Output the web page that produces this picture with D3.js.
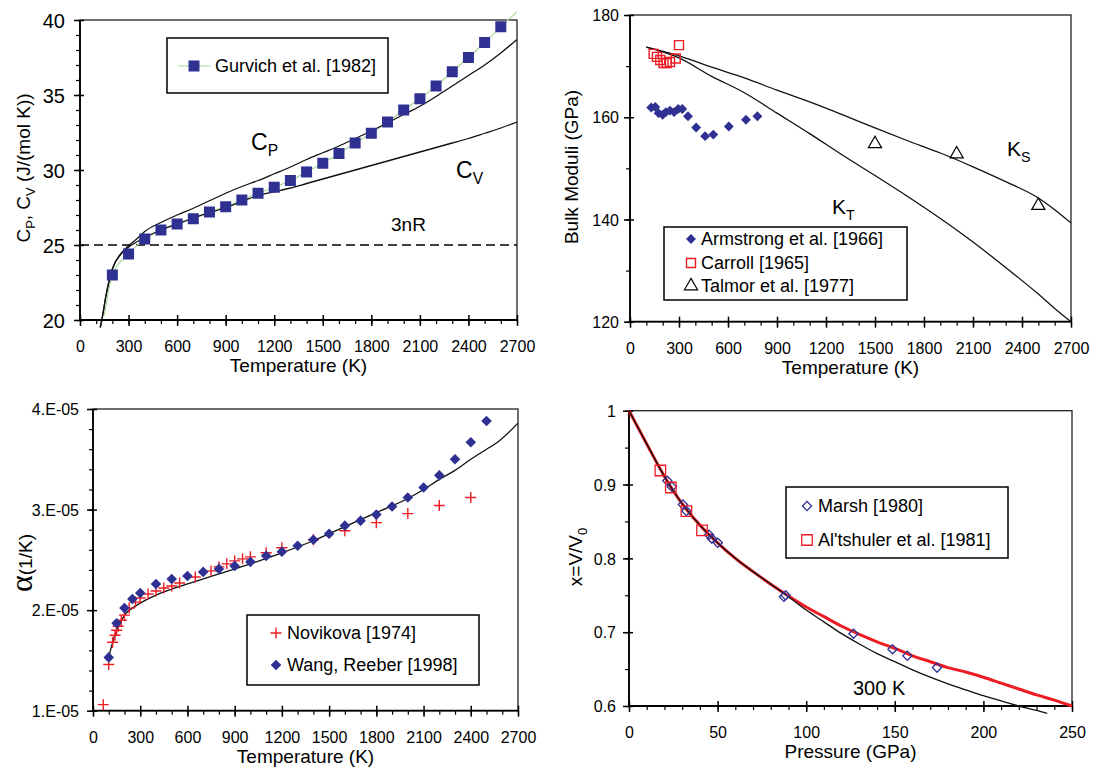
<!DOCTYPE html>
<html>
<head>
<meta charset="utf-8">
<script src="https://cdn.jsdelivr.net/npm/d3@7"></script>
<style>
  body { margin: 0; background: #fff; }
  svg { display: block; }
  text { font-family: "Liberation Sans", Arial, sans-serif; fill: #000; }
</style>
</head>
<body>
<svg id="chart" width="1093" height="769"></svg>
<script>
const BLUE = "#2e3192", RED = "#ed1c24", GREEN = "#a9d69b";

// ---- panel 1 : heat capacity ----
const gurvichT = [200, 300, 400, 500, 600, 700, 800, 900, 1000, 1100, 1200, 1300, 1400,
  1500, 1600, 1700, 1800, 1900, 2000, 2100, 2200, 2300, 2400, 2500, 2600];
const gurvichC = [23.0, 24.4, 25.4, 26.0, 26.4, 26.75, 27.2, 27.55, 28.0, 28.45, 28.85, 29.3, 29.87,
  30.45, 31.1, 31.8, 32.45, 33.2, 34.0, 34.75, 35.6, 36.55, 37.5, 38.5, 39.55];
const gurvichLineStart = [150, 20.3];
const gurvichLineEnd = [2700, 40.55];
const calcT = [125, 135, 160, 200, 250, 300, 350, 400, 500, 600, 700, 800, 900, 1000, 1100, 1200,
  1300, 1400, 1500, 1600, 1700, 1800, 1900, 2000, 2100, 2200, 2300, 2400, 2500, 2600, 2700];
const cp = [19.5, 20.0, 21.6, 23.4, 24.4, 24.95, 25.4, 25.9, 26.5, 27.0, 27.45, 27.95, 28.45, 28.9, 29.3, 29.75,
  30.2, 30.7, 31.15, 31.6, 32.1, 32.6, 33.15, 33.7, 34.25, 34.9, 35.6, 36.3, 37.0, 37.8, 38.7];
const cv = [19.5, 20.0, 21.6, 23.4, 24.35, 24.85, 25.2, 25.5, 26.0, 26.4, 26.8, 27.15, 27.5, 27.9, 28.3, 28.55,
  28.8, 29.1, 29.4, 29.7, 30.0, 30.3, 30.6, 30.9, 31.2, 31.5, 31.8, 32.1, 32.45, 32.8, 33.2];
const dulongPetit = 25;

// ---- panel 2 : bulk moduli ----
const armstrongT = [130, 155, 175, 200, 220, 245, 270, 295, 320, 355, 405, 460, 510, 605, 710, 780];
const armstrongK = [161.9, 162.0, 160.8, 160.5, 161.0, 161.3, 161.0, 161.6, 161.6, 160.2, 158.0, 156.3, 156.6, 158.2, 159.5, 160.2];
const carrollT = [145, 165, 185, 205, 225, 245, 280, 300];
const carrollK = [172.4, 171.8, 171.2, 170.6, 170.6, 170.8, 171.5, 174.1];
const talmorT = [1500, 2000, 2500];
const talmorK = [154.8, 152.8, 142.7];
const modT = [100, 300, 500, 700, 900, 1100, 1300, 1500, 1700, 1900, 2100, 2300, 2500, 2600, 2700];
const ks = [173.7, 172.0, 169.8, 167.7, 165.3, 163.0, 160.5, 157.9, 155.4, 153.0, 150.3, 147.4, 144.2, 141.9, 139.3];
const kt = [173.7, 171.6, 168.0, 164.8, 160.8, 156.8, 152.6, 148.6, 144.5, 140.2, 135.6, 130.6, 125.4, 122.6, 120.0];

// ---- panel 3 : thermal expansion (units of 1E-05 1/K) ----
const novikovaT = [65, 100, 125, 140, 150, 160, 180, 200, 230, 270, 300, 350, 400, 450, 500, 550, 650, 750,
  800, 850, 900, 950, 1000, 1100, 1200, 1400, 1600, 1800, 2000, 2200, 2400];
const novikovaA = [1.06, 1.46, 1.68, 1.75, 1.80, 1.84, 1.90, 1.95, 2.02, 2.08, 2.12, 2.16, 2.19, 2.22, 2.24, 2.27, 2.33, 2.39,
  2.43, 2.46, 2.49, 2.51, 2.53, 2.57, 2.62, 2.70, 2.79, 2.87, 2.96, 3.04, 3.12];
const wangT = [100, 150, 200, 250, 300, 400, 500, 600, 700, 800, 900, 1000, 1100, 1200, 1300, 1400,
  1500, 1600, 1700, 1800, 1900, 2000, 2100, 2200, 2300, 2400, 2500];
const wangA = [1.53, 1.87, 2.02, 2.11, 2.17, 2.26, 2.31, 2.34, 2.38, 2.41, 2.44, 2.48, 2.54, 2.58, 2.64, 2.70,
  2.76, 2.84, 2.89, 2.95, 3.03, 3.12, 3.22, 3.34, 3.50, 3.67, 3.88];
const alphaT = [100, 150, 200, 250, 300, 400, 500, 600, 800, 1000, 1200, 1400, 1600, 1800, 2000, 2100,
  2200, 2300, 2400, 2500, 2570, 2700];
const alphaCalc = [1.54, 1.80, 1.95, 2.02, 2.07, 2.15, 2.21, 2.26, 2.36, 2.46, 2.57, 2.69, 2.83, 2.97, 3.11, 3.20,
  3.30, 3.39, 3.50, 3.60, 3.67, 3.86];

// ---- panel 4 : compression ----
const marshP = [21.6, 24.2, 30.4, 32.4, 45.2, 46.7, 50.1, 87.4, 88.4, 126.7, 148.7, 157.1, 173.8];
const marshX = [0.905, 0.897, 0.873, 0.864, 0.832, 0.827, 0.821, 0.748, 0.750, 0.698, 0.677, 0.668, 0.652];
const altshulerP = [17.7, 23.6, 32.4, 41.2];
const altshulerX = [0.919, 0.896, 0.864, 0.838];
const isoP = [0, 10, 20, 30, 40, 50, 60, 70, 80, 90, 100, 110, 120, 130, 140, 150, 160, 170, 180, 190,
  200, 210, 220, 230, 236];
const iso300 = [1.0, 0.955, 0.911, 0.874, 0.845, 0.821, 0.800, 0.782, 0.765, 0.748, 0.730, 0.714, 0.698, 0.684,
  0.671, 0.660, 0.649, 0.639, 0.630, 0.622, 0.614, 0.607, 0.600, 0.594, 0.590];
const hugP = [0, 10, 20, 30, 40, 50, 60, 70, 80, 90, 100, 110, 120, 130, 140, 150, 160, 170, 180, 190,
  200, 210, 220, 230, 240, 250];
const hugX = [1.0, 0.955, 0.911, 0.874, 0.845, 0.821, 0.800, 0.782, 0.765, 0.749, 0.734, 0.721, 0.708, 0.697,
  0.687, 0.678, 0.668, 0.660, 0.652, 0.646, 0.639, 0.631, 0.623, 0.615, 0.608, 0.600];

const tempTicks = [0, 300, 600, 900, 1200, 1500, 1800, 2100, 2400, 2700];

const svg = d3.select("#chart");
svg.append("rect").attr("width", 1093).attr("height", 769).attr("fill", "#fff");

function zip(a, b) { return a.map((v, i) => [v, b[i]]); }

// draw frame, axes and tick labels of one panel
function panel(o) {
  const x = d3.scaleLinear().domain(o.xd).range(o.xr);
  const y = d3.scaleLinear().domain(o.yd).range(o.yr);
  const g = svg.append("g");
  const bottom = o.yr[0], left = o.xr[0];

  g.append("rect")
    .attr("x", o.xr[0]).attr("y", o.yr[1])
    .attr("width", o.xr[1] - o.xr[0]).attr("height", o.yr[0] - o.yr[1])
    .attr("fill", "none").attr("stroke", "#222").attr("stroke-width", 1.3);

  // minor ticks
  const xm = g.append("g").attr("transform", `translate(0,${bottom})`)
    .call(d3.axisBottom(x).tickValues(o.xMinor).tickSize(4).tickFormat(""));
  xm.select(".domain").remove();
  const ym = g.append("g").attr("transform", `translate(${left},0)`)
    .call(d3.axisLeft(y).tickValues(o.yMinor).tickSize(4).tickFormat(""));
  ym.select(".domain").remove();
  g.selectAll("line").attr("stroke-width", 1.2);

  // major ticks + labels
  const xa = g.append("g").attr("transform", `translate(0,${bottom})`)
    .call(d3.axisBottom(x).tickValues(o.xMajor).tickSize(6).tickFormat(o.xFmt || d3.format("d")));
  xa.select(".domain").remove();
  xa.selectAll("line").attr("y1", -5).attr("stroke-width", 1.5);
  xa.selectAll("text").attr("y", 32).attr("dy", null)
    .attr("font-size", o.xFs || 16).attr("font-family", "Liberation Sans, Arial, sans-serif");

  const ya = g.append("g").attr("transform", `translate(${left},0)`)
    .call(d3.axisLeft(y).tickValues(o.yMajor).tickSize(6).tickFormat(o.yFmt));
  ya.select(".domain").remove();
  ya.selectAll("line").attr("x1", 4).attr("stroke-width", 1.5);
  ya.selectAll("text").attr("x", -o.yLabOff).attr("dy", "0.36em")
    .attr("font-size", o.yFs || 16).attr("font-family", "Liberation Sans, Arial, sans-serif");

  g.append("line").attr("x1", left).attr("x2", left).attr("y1", o.yr[1]).attr("y2", bottom)
    .attr("stroke", "#000").attr("stroke-width", 1.8);
  g.append("line").attr("x1", left).attr("x2", o.xr[1]).attr("y1", bottom).attr("y2", bottom)
    .attr("stroke", "#000").attr("stroke-width", 1.8);

  g.append("text").attr("x", (o.xr[0] + o.xr[1]) / 2).attr("y", bottom + 52)
    .attr("text-anchor", "middle").attr("font-size", 19).text(o.xTitle);
  return { x, y, g };
}

// text with subscripts: parts = [[str, isSub], ...]
function rich(g, x, y, parts, size, opts = {}) {
  const t = g.append("text").attr("x", x).attr("y", y).attr("font-size", size)
    .attr("text-anchor", opts.anchor || "start");
  if (opts.rotate) t.attr("transform", `rotate(-90,${x},${y})`).attr("dy", "0.35em");
  let shift = 0;
  parts.forEach(p => {
    const s = t.append("tspan").text(p[0]);
    const target = p[1] ? size * 0.28 : 0;
    if (target !== shift) { s.attr("dy", target - shift); shift = target; }
    if (p[1]) s.attr("font-size", size * 0.68);
  });
  return t;
}

function curve(g, x, y, pts, color, width) {
  g.append("path").datum(pts)
    .attr("d", d3.line().x(d => x(d[0])).y(d => y(d[1])).curve(d3.curveMonotoneX))
    .attr("fill", "none").attr("stroke", color).attr("stroke-width", width)
    .attr("stroke-linejoin", "round");
}

const sqPath = (s) => d3.symbol(d3.symbolSquare, s * s)();
function squares(g, pts, s, fill, stroke, sw) {
  g.selectAll(null).data(pts).enter().append("path")
    .attr("d", sqPath(s)).attr("transform", d => `translate(${d[0]},${d[1]})`)
    .attr("fill", fill).attr("stroke", stroke || "none").attr("stroke-width", sw || 0);
}
function diamonds(g, pts, s, fill, stroke, sw) {
  g.selectAll(null).data(pts).enter().append("path")
    .attr("d", sqPath(s)).attr("transform", d => `translate(${d[0]},${d[1]}) rotate(45)`)
    .attr("fill", fill).attr("stroke", stroke || "none").attr("stroke-width", sw || 0);
}
function crosses(g, pts, r, color) {
  g.selectAll(null).data(pts).enter().append("path")
    .attr("d", `M${-r},0H${r}M0,${-r}V${r}`).attr("transform", d => `translate(${d[0]},${d[1]})`)
    .attr("stroke", color).attr("stroke-width", 1.4).attr("fill", "none");
}
function triangles(g, pts, s) {
  g.selectAll(null).data(pts).enter().append("path")
    .attr("d", d3.symbol(d3.symbolTriangle, s)()).attr("transform", d => `translate(${d[0]},${d[1]})`)
    .attr("fill", "none").attr("stroke", "#000").attr("stroke-width", 1.2);
}
function legendBox(g, x0, y0, x1, y1) {
  g.append("rect").attr("x", x0).attr("y", y0).attr("width", x1 - x0).attr("height", y1 - y0)
    .attr("fill", "#fff").attr("stroke", "#000").attr("stroke-width", 1.5);
}

const tempMinor = d3.range(0, 2701, 100);

// ================= panel 1 =================
{
  const p = panel({
    xd: [0, 2700], xr: [80, 517], yd: [20, 40], yr: [320, 20],
    xMajor: tempTicks, xMinor: tempMinor, yMajor: [20, 25, 30, 35, 40], yMinor: d3.range(20, 40.1, 1),
    yFmt: d3.format("d"), yLabOff: 15, yFs: 20, xTitle: "Temperature (K)"
  });
  const { x, y, g } = p;
  g.append("line").attr("x1", x(0)).attr("x2", x(2700)).attr("y1", y(dulongPetit)).attr("y2", y(dulongPetit))
    .attr("stroke", "#000").attr("stroke-width", 1.6).attr("stroke-dasharray", "9,5");
  const gLine = [gurvichLineStart].concat(zip(gurvichT, gurvichC)).concat([gurvichLineEnd]);
  curve(g, x, y, gLine, GREEN, 1.2);
  curve(g, x, y, zip(calcT, cp), "#111", 1.3);
  curve(g, x, y, zip(calcT, cv), "#111", 1.3);
  squares(g, zip(gurvichT, gurvichC).map(d => [x(d[0]), y(d[1])]), 11, BLUE);

  rich(g, 251, 150, [["C", 0], ["P", 1]], 23);
  rich(g, 456, 178, [["C", 0], ["V", 1]], 23);
  g.append("text").attr("x", 391).attr("y", 231).attr("font-size", 19).text("3nR");
  rich(g, 23, 168, [["C", 0], ["P", 1], [", C", 0], ["V", 1], [" (J/(mol K))", 0]], 19, { anchor: "middle", rotate: true });

  legendBox(g, 167, 38, 388, 93);
  g.append("line").attr("x1", 178).attr("x2", 211).attr("y1", 66).attr("y2", 66).attr("stroke", GREEN).attr("stroke-width", 1.2);
  squares(g, [[194, 66]], 11, BLUE);
  g.append("text").attr("x", 215).attr("y", 72).attr("font-size", 18).text("Gurvich et al. [1982]");
}

// ================= panel 2 =================
{
  const p = panel({
    xd: [0, 2700], xr: [630, 1071], yd: [120, 180], yr: [321.7, 15],
    xMajor: tempTicks, xMinor: tempMinor, yMajor: [120, 140, 160, 180], yMinor: d3.range(120, 180.1, 10),
    yFmt: d3.format("d"), yLabOff: 11, xTitle: "Temperature (K)"
  });
  const { x, y, g } = p;
  curve(g, x, y, zip(modT, ks), "#111", 1.3);
  curve(g, x, y, zip(modT, kt), "#111", 1.3);
  diamonds(g, zip(armstrongT, armstrongK).map(d => [x(d[0]), y(d[1])]), 7, BLUE);
  squares(g, zip(carrollT, carrollK).map(d => [x(d[0]), y(d[1])]), 9, "none", RED, 1.4);
  triangles(g, zip(talmorT, talmorK).map(d => [x(d[0]), y(d[1])]), 75);

  rich(g, 1007, 156, [["K", 0], ["S", 1]], 21);
  rich(g, 832, 214, [["K", 0], ["T", 1]], 21);
  g.append("text").attr("x", 571).attr("y", 167).attr("font-size", 19).attr("text-anchor", "middle")
    .attr("dy", "0.35em").attr("transform", "rotate(-90,571,167)").text("Bulk Moduli (GPa)");

  legendBox(g, 664, 227, 907, 300);
  diamonds(g, [[691, 239]], 7, BLUE);
  squares(g, [[691, 263]], 9, "none", RED, 1.4);
  triangles(g, [[691, 286]], 75);
  g.append("text").attr("x", 701).attr("y", 245).attr("font-size", 18).text("Armstrong et al. [1966]");
  g.append("text").attr("x", 701).attr("y", 269).attr("font-size", 18).text("Carroll [1965]");
  g.append("text").attr("x", 701).attr("y", 292).attr("font-size", 18).text("Talmor et al. [1977]");
}

// ================= panel 3 =================
{
  const p = panel({
    xd: [0, 2700], xr: [93, 518], yd: [1, 4], yr: [710.7, 409],
    xMajor: tempTicks, xMinor: tempMinor, yMajor: [1, 2, 3, 4], yMinor: d3.range(1, 4.01, 0.2),
    yFmt: d => d + ".E-05", yLabOff: 14, xTitle: "Temperature (K)"
  });
  const { x, y, g } = p;
  curve(g, x, y, zip(alphaT, alphaCalc), "#111", 1.3);
  crosses(g, zip(novikovaT, novikovaA).map(d => [x(d[0]), y(d[1])]), 5.5, RED);
  diamonds(g, zip(wangT, wangA).map(d => [x(d[0]), y(d[1])]), 7.5, BLUE);

  const t = g.append("text").attr("transform", "translate(26,563) rotate(-90)")
    .attr("text-anchor", "middle").attr("dy", "0.35em");
  t.append("tspan").attr("font-family", "Liberation Serif, serif").attr("font-size", 32).text("α");
  t.append("tspan").attr("font-size", 19).text("(1/K)");

  legendBox(g, 247, 615, 479, 685);
  crosses(g, [[276, 633]], 5.5, RED);
  diamonds(g, [[276, 665]], 7.5, BLUE);
  g.append("text").attr("x", 287).attr("y", 639).attr("font-size", 18).text("Novikova [1974]");
  g.append("text").attr("x", 287).attr("y", 671).attr("font-size", 18).text("Wang, Reeber [1998]");
}

// ================= panel 4 =================
{
  const p = panel({
    xd: [0, 250], xr: [629, 1072], yd: [0.6, 1], yr: [706, 410.7],
    xMajor: [0, 50, 100, 150, 200, 250], xMinor: d3.range(0, 250.1, 10),
    yMajor: [0.6, 0.7, 0.8, 0.9, 1], yMinor: d3.range(0.6, 1.001, 0.05),
    yFmt: d3.format(""), yLabOff: 13, xTitle: "Pressure (GPa)"
  });
  const { x, y, g } = p;
  curve(g, x, y, zip(hugP, hugX), RED, 3);
  curve(g, x, y, zip(isoP, iso300), "#111", 1.3);
  diamonds(g, zip(marshP, marshX).map(d => [x(d[0]), y(d[1])]), 6.5, "none", BLUE, 1.3);
  squares(g, zip(altshulerP, altshulerX).map(d => [x(d[0]), y(d[1])]), 10.5, "none", RED, 1.3);

  g.append("text").attr("x", 853).attr("y", 695).attr("font-size", 20).text("300 K");
  rich(g, 575, 557, [["x=V/V", 0], ["0", 1]], 19, { anchor: "middle", rotate: true });

  legendBox(g, 786, 487, 1008, 558);
  diamonds(g, [[807, 506]], 6.5, "none", BLUE, 1.3);
  squares(g, [[807, 540]], 10.5, "none", RED, 1.3);
  g.append("text").attr("x", 818).attr("y", 512).attr("font-size", 18).text("Marsh [1980]");
  g.append("text").attr("x", 818).attr("y", 546).attr("font-size", 18).text("Al'tshuler et al. [1981]");
}
</script>
</body>
</html>
